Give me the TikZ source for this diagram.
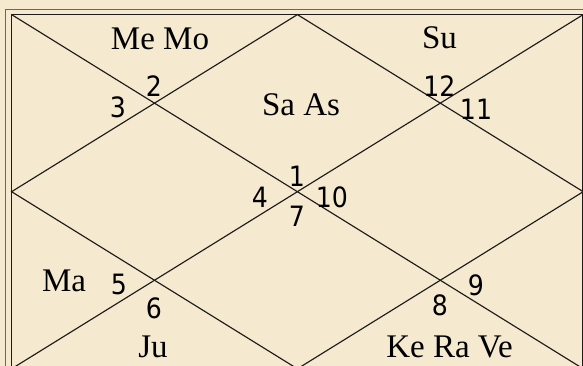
\documentclass[tikz,border=0pt]{standalone}
\usepackage{fontspec}
\setmainfont{Liberation Serif}
\newfontfamily\numfont{DejaVu Sans Condensed}
\definecolor{bgbeige}{RGB}{245,233,208}
\definecolor{outerline}{RGB}{110,104,92}
\definecolor{innerline}{RGB}{30,28,26}
\begin{document}
\begin{tikzpicture}[x=1pt,y=-1pt,
  planet/.style={anchor=base,inner sep=0pt,font=\fontsize{33}{33}\selectfont},
  house/.style={anchor=center,inner sep=0pt,font=\numfont\fontsize{28}{28}\selectfont},
  chartline/.style={draw=innerline,line width=1.15pt}]
\fill[bgbeige] (0,0) rectangle (583,366);
\useasboundingbox (0,0) rectangle (583,366);
% borders
\draw[outerline,line width=1.6pt] (5.6,9.4) rectangle (589,375);
\draw[innerline,line width=1.5pt] (11.6,14.6) rectangle (583.2,368.8);
% corner and mid coordinates
\coordinate (tl) at (11.6,14.6);
\coordinate (tr) at (583.2,14.6);
\coordinate (bl) at (11.6,368.8);
\coordinate (br) at (583.2,368.8);
\coordinate (tm) at (297.4,14.6);
\coordinate (bm) at (297.4,368.8);
\coordinate (lm) at (11.6,191.7);
\coordinate (rm) at (583.2,191.7);
% diagonals
\draw[chartline] (tl) -- (br);
\draw[chartline] (tr) -- (bl);
% diamond
\draw[chartline] (tm) -- (rm) -- (bm) -- (lm) -- cycle;
% planets
\node[planet] (p2) at (160,49.3) {Me Mo};
\node[planet] (p12) at (439.5,48.3) {Su};
\node[planet] (p1) at (301,115.7) {Sa As};
\node[planet] (p5) at (64,291.7) {Ma};
\node[planet] (p6) at (153,357) {Ju};
\node[planet] (p8) at (449.5,357) {Ke Ra Ve};
% house numbers
\node[house] (h2) at (154,86) {2};
\node[house] (h3) at (118,107.5) {3};
\node[house] (h12) at (439.5,86) {12};
\node[house] (h11) at (476,109) {11};
\node[house] (h1) at (297,176) {1};
\node[house] (h4) at (260,197) {4};
\node[house] (h10) at (332,197) {10};
\node[house] (h7) at (297,216) {7};
\node[house] (h5) at (119,284.5) {5};
\node[house] (h6) at (154,308) {6};
\node[house] (h8) at (440,305.5) {8};
\node[house] (h9) at (476,285) {9};
\end{tikzpicture}
\end{document}
